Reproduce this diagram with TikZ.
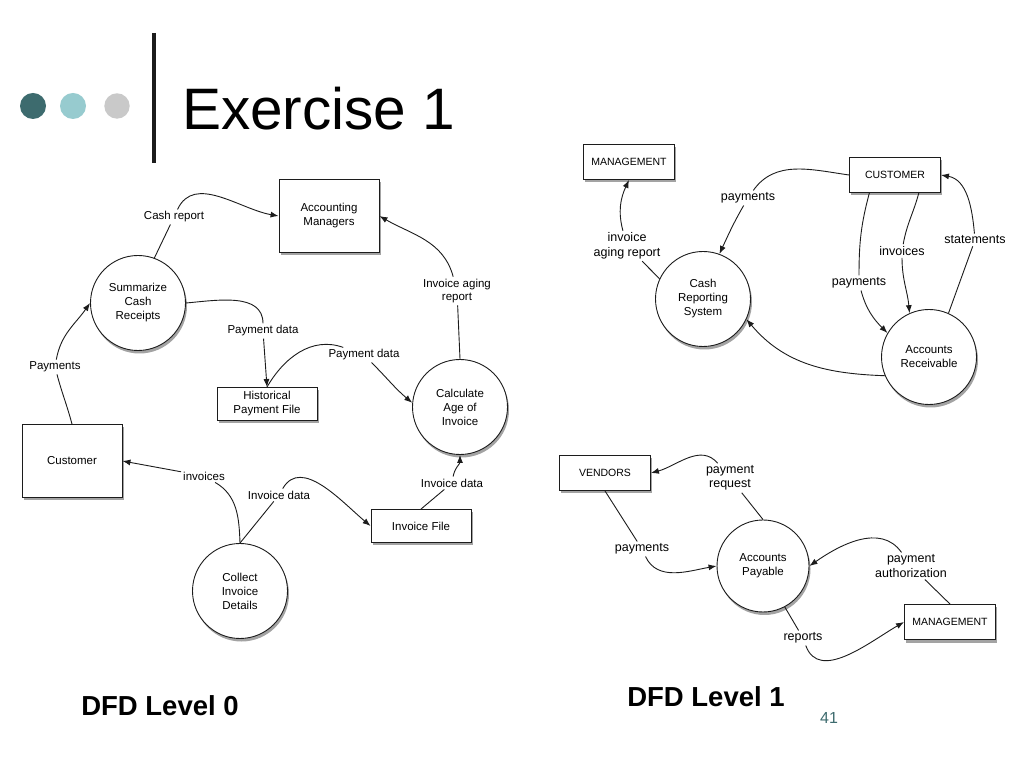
\documentclass[tikz,border=0pt]{standalone}
\usepackage{fontspec}
\setmainfont{Liberation Sans}
\usepackage{xcolor}
\usepackage{tikz}
\usetikzlibrary{arrows.meta,shadows}
\definecolor{ink}{HTML}{1C1C1C}
\definecolor{tealdark}{HTML}{3D6B6E}
\definecolor{teallight}{HTML}{97CBCF}
\definecolor{greydot}{HTML}{C9C9C9}
\tikzset{
  dropsh/.style={drop shadow={shadow xshift=1.5pt, shadow yshift=-3pt, opacity=0.45, fill=black!80}},
  proc/.style={circle, draw=ink, line width=0.9pt, fill=white, dropsh, minimum size=95pt,
    inner sep=0pt, align=center, font=\fontsize{11.5}{14}\selectfont},
  ent/.style={rectangle, draw=ink, line width=0.9pt, fill=white, dropsh, minimum width=100pt,
    minimum height=73pt, align=center, font=\fontsize{11.5}{14}\selectfont},
  store/.style={ent, minimum height=33pt},
  entb/.style={ent, minimum width=91pt, minimum height=35pt, font=\fontsize{10.5}{12}\selectfont},
  lab/.style={inner sep=2pt, align=center, font=\fontsize{11.5}{13.5}\selectfont},
  labb/.style={inner sep=2pt, align=center, font=\fontsize{12.5}{14.5}\selectfont},
  seg/.style={draw=ink, line width=0.9pt},
  flow/.style={seg, -{Latex[length=8pt,width=6pt]}},
}
\begin{document}
\begin{tikzpicture}[x=1pt,y=1pt]
  \fill[white] (0,0) rectangle (1024,768);
  \useasboundingbox (0,0) rectangle (1024,768);

  % title bar
  \fill[tealdark] (33,662) circle (13);
  \fill[teallight] (73,662) circle (13);
  \fill[greydot] (117,662) circle (12.7);
  \draw[ink, line width=4pt] (154,735) -- (154,605);
  \node[anchor=base west, inner sep=0pt, font=\fontsize{58.5}{60}\selectfont] (title) at (182,638) {Exercise 1};

  % level 0
  \node[ent] (accm) at (329,552) {Accounting\\Managers};
  \node[proc] (sumc) at (138,465) {Summarize\\Cash\\Receipts};
  \node[store] (hist) at (267,364) {Historical\\Payment File};
  \node[proc] (calc) at (460,361) {Calculate\\Age of\\Invoice};
  \node[ent] (cust) at (72,307) {Customer};
  \node[proc] (coll) at (240,177) {Collect\\Invoice\\Details};
  \node[store] (invf) at (421,242) {Invoice File};

  \node[lab] (lcash) at (174,551) {Cash report};
  \node[lab] (lpayA) at (263,437) {Payment data};
  \node[lab] (lpayB) at (364,413) {Payment data};
  \node[lab] (laging) at (457,477) {Invoice aging\\report};
  \node[lab] (lpaym) at (55,401) {Payments};
  \node[lab] (linvc) at (204,292) {invoices};
  \node[lab] (linvA) at (279,273) {Invoice data};
  \node[lab] (linvB) at (452,285) {Invoice data};

  \draw[seg] (sumc.70) -- (lcash);
  \draw[flow] (lcash) to[out=65,in=170] (accm.west);
  \draw[seg] (sumc.east) to[out=5,in=90] (lpayA);
  \draw[flow] (lpayA) -- (hist.north);
  \draw[seg] (hist.north) to[out=60,in=160] (lpayB);
  \draw[flow] (lpayB) to[out=-45,in=140] (calc.175);
  \draw[seg] (calc.north) -- (laging);
  \draw[flow] (laging) to[out=105,in=-30] (accm.east);
  \draw[seg] (cust.north) to[out=105,in=-75] (lpaym);
  \draw[flow] (lpaym) to[out=80,in=-125] (sumc.west);
  \draw[seg] (coll.north) to[out=92,in=-30] (linvc);
  \draw[flow] (linvc) -- (cust.east);
  \draw[seg] (coll.north) -- (linvA);
  \draw[flow] (linvA) to[out=60,in=140] (invf.west);
  \draw[seg] (invf.north) -- (linvB);
  \draw[flow] (linvB) to[out=80,in=-90] (calc.south);

  \node[font=\bfseries\fontsize{27.5}{29}\selectfont] (lvl0) at (160,62) {DFD Level 0};

  % level 1, receivables
  \node[entb] (mgmtA) at (629,606) {MANAGEMENT};
  \node[entb] (custU) at (895,593) {CUSTOMER};
  \node[proc] (crs) at (703,469) {Cash\\Reporting\\System};
  \node[proc] (ar) at (929,411) {Accounts\\Receivable};

  \node[labb] (lmgt) at (627,522) {invoice\\aging report};
  \node[labb] (lpayC) at (748,570) {payments};
  \node[labb] (lpayD) at (859,485) {payments};
  \node[labb] (linvD) at (902,517) {invoices};
  \node[labb] (lstat) at (975,528) {statements};

  \draw[seg] (crs.155) -- (lmgt);
  \draw[flow] (lmgt) to[out=105,in=-115] (mgmtA.south);
  \draw[seg] (custU.west) to[out=172,in=55] (lpayC);
  \draw[flow] (lpayC) to[out=-120,in=65] (crs.70);
  \draw[seg] (custU.-145) to[out=-105,in=90] (lpayD);
  \draw[flow] (lpayD) to[out=-75,in=135] (ar.150);
  \draw[seg] (custU.-37) to[out=-105,in=80] (linvD);
  \draw[flow] (linvD) to[out=-90,in=95] (ar.114);
  \draw[seg] (ar.66) -- (lstat);
  \draw[flow] (lstat) to[out=95,in=-10] (custU.east);
  \draw[flow] (ar.-157) to[out=178,in=-50] (crs.-25);

  % level 1, payables
  \node[entb] (vend) at (605,295) {VENDORS};
  \node[proc, minimum size=92pt] (ap) at (763,202) {Accounts\\Payable};
  \node[entb] (mgmtB) at (950,146) {MANAGEMENT};

  \node[labb] (lreq) at (730,290) {payment\\request};
  \node[labb] (lpayE) at (642,219) {payments};
  \node[labb] (lauth) at (911,202) {payment\\authorization};
  \node[labb] (lrep) at (803,130) {reports};

  \draw[seg] (ap.north) -- (lreq);
  \draw[flow] (lreq) to[out=130,in=15] (vend.east);
  \draw[seg] (vend.south) -- (lpayE);
  \draw[flow] (lpayE) to[out=-65,in=190] (ap.west);
  \draw[seg] (mgmtB.north) -- (lauth);
  \draw[flow] (lauth) to[out=125,in=35] (ap.east);
  \draw[seg] (ap.-62) -- (lrep);
  \draw[flow] (lrep) to[out=-70,in=-150] (mgmtB.west);

  \node[font=\bfseries\fontsize{27.5}{29}\selectfont] (lvl1) at (706,71) {DFD Level 1};
  \node[text=tealdark, font=\fontsize{16}{18}\selectfont] (pgno) at (829,50) {41};
\end{tikzpicture}
\end{document}
